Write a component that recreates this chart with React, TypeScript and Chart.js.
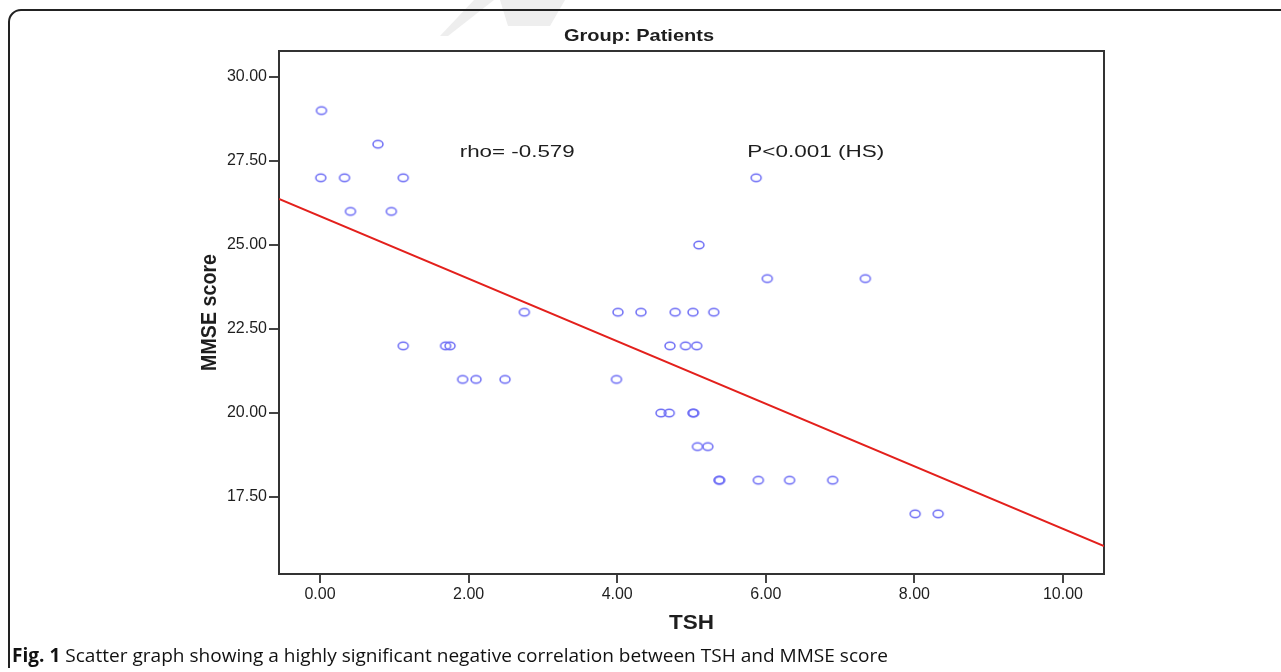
import React, { useEffect, useRef } from "react";
import { Chart, registerables } from "chart.js";

Chart.register(...registerables);

// ---- data ----
const tshValues = [
  0.02, 0.78, 0.01, 0.33, 1.12, 5.87, 0.41, 0.96, 5.1, 6.02, 7.34,
  2.75, 4.01, 4.32, 4.78, 5.02, 5.3,
  1.12, 1.69, 1.75, 4.71, 4.92, 5.07,
  1.92, 2.1, 2.49, 3.99,
  4.59, 4.7, 5.02, 5.03,
  5.08, 5.22,
  5.37, 5.38, 5.9, 6.32, 6.9,
  8.01, 8.32,
];
const mmseValues = [
  29, 28, 27, 27, 27, 27, 26, 26, 25, 24, 24,
  23, 23, 23, 23, 23, 23,
  22, 22, 22, 22, 22, 22,
  21, 21, 21, 21,
  20, 20, 20, 20,
  19, 19,
  18, 18, 18, 18, 18,
  17, 17,
];
const xTicks = [0, 2, 4, 6, 8, 10];
const yTicks = [17.5, 20, 22.5, 25, 27.5, 30];
const xRange = [-0.552, 10.552];
const yRange = [15.209, 30.774];
const fitIntercept = 25.856;
const fitSlope = -0.93;
const chartTitle = "Group: Patients";
const xTitle = "TSH";
const yTitle = "MMSE score";
const rhoText = "rho= -0.579";
const pText = "P<0.001 (HS)";
const captionBold = "Fig. 1";
const captionRest =
  " Scatter graph showing a highly significant negative correlation between TSH and MMSE score";

const SANS = "'Liberation Sans', Arial, sans-serif";
const TEXT = "#1e1e1e";

function stretchText(
  ctx: CanvasRenderingContext2D,
  text: string,
  x: number,
  y: number,
  font: string,
  width: number,
  align: CanvasTextAlign
) {
  ctx.save();
  ctx.font = font;
  const w = ctx.measureText(text).width;
  const sx = width / w;
  ctx.translate(x, y);
  ctx.scale(sx, 1);
  ctx.textAlign = align;
  ctx.textBaseline = "alphabetic";
  ctx.fillStyle = TEXT;
  ctx.fillText(text, 0, 0);
  ctx.restore();
}

const decorPlugin = {
  id: "decor",
  beforeDraw(chart: any) {
    const ctx: CanvasRenderingContext2D = chart.ctx;
    ctx.save();
    ctx.fillStyle = "#ffffff";
    ctx.fillRect(0, 0, chart.width, chart.height);
    // faint watermark fragments
    ctx.fillStyle = "#eeeeee";
    ctx.beginPath();
    ctx.moveTo(474, 0);
    ctx.lineTo(494, 0);
    ctx.lineTo(448, 36);
    ctx.lineTo(440, 36);
    ctx.closePath();
    ctx.fill();
    ctx.beginPath();
    ctx.moveTo(500, 0);
    ctx.lineTo(565, 0);
    ctx.lineTo(550, 26);
    ctx.lineTo(508, 26);
    ctx.closePath();
    ctx.fill();
    // figure frame
    ctx.strokeStyle = "#222";
    ctx.lineWidth = 2;
    ctx.beginPath();
    ctx.moveTo(9, 668);
    ctx.lineTo(9, 22);
    ctx.arcTo(9, 10, 21, 10, 12);
    ctx.lineTo(1281, 10);
    ctx.stroke();
    ctx.restore();
  },
  beforeDatasetsDraw(chart: any) {
    const ctx: CanvasRenderingContext2D = chart.ctx;
    const a = chart.chartArea;
    ctx.save();
    ctx.strokeStyle = "#333";
    ctx.lineWidth = 2;
    ctx.strokeRect(a.left, a.top, a.right - a.left, a.bottom - a.top);
    ctx.restore();
  },
  afterDraw(chart: any) {
    const ctx: CanvasRenderingContext2D = chart.ctx;
    const a = chart.chartArea;
    const xs = chart.scales.x;
    const ys = chart.scales.y;
    const cx = (a.left + a.right) / 2;
    const cy = (a.top + a.bottom) / 2;
    // title
    stretchText(ctx, chartTitle, 639, 41, `bold 17px ${SANS}`, 150, "center");
    // x axis title
    stretchText(ctx, xTitle, cx, 629, `bold 20px ${SANS}`, 45, "center");
    // y axis title (rotated)
    ctx.save();
    ctx.translate(216, cy);
    ctx.rotate(-Math.PI / 2);
    ctx.font = `bold 20px ${SANS}`;
    const w = ctx.measureText(yTitle).width;
    ctx.scale(117 / w, 1.12);
    ctx.textAlign = "center";
    ctx.fillStyle = TEXT;
    ctx.fillText(yTitle, 0, 0);
    ctx.restore();
    // annotations placed in data space
    stretchText(ctx, rhoText, xs.getPixelForValue(1.88), ys.getPixelForValue(27.62), `16px ${SANS}`, 115, "left");
    stretchText(ctx, pText, xs.getPixelForValue(5.75), ys.getPixelForValue(27.62), `16px ${SANS}`, 137, "left");
    // caption
    ctx.save();
    const fb = `bold 19px 'Open Sans', sans-serif`;
    const fr = `19px 'Open Sans', sans-serif`;
    ctx.font = fb;
    const wb = ctx.measureText(captionBold).width;
    ctx.font = fr;
    const wr = ctx.measureText(captionRest).width;
    const sx = 876 / (wb + wr);
    ctx.translate(12, 662);
    ctx.scale(sx, 1);
    ctx.fillStyle = "#111";
    ctx.textBaseline = "alphabetic";
    ctx.textAlign = "left";
    ctx.font = fb;
    ctx.fillText(captionBold, 0, 0);
    ctx.font = fr;
    ctx.fillText(captionRest, wb, 0);
    ctx.restore();
  },
};

export default function App() {
  const ref = useRef<HTMLCanvasElement | null>(null);

  useEffect(() => {
    if (!ref.current) return;
    const pt = document.createElement("canvas");
    pt.width = 16;
    pt.height = 12;
    const pc = pt.getContext("2d")!;
    pc.strokeStyle = "rgb(110,110,245)";
    pc.lineWidth = 1.5;
    pc.beginPath();
    pc.ellipse(8, 6, 5.0, 3.8, 0, 0, Math.PI * 2);
    pc.stroke();

    const points = tshValues.map((x, i) => ({ x, y: mmseValues[i] }));
    const fitLine = xRange.map((x) => ({ x, y: fitIntercept + fitSlope * x }));

    const chart = new Chart(ref.current, {
      type: "scatter",
      data: {
        datasets: [
          {
            label: "Patients",
            data: points,
            pointStyle: pt as any,
            pointRadius: 6,
            borderColor: "rgb(110,110,245)",
            backgroundColor: "transparent",
            order: 1,
          },
          {
            label: "Fit",
            type: "line",
            data: fitLine,
            borderColor: "#e3201c",
            borderWidth: 2,
            pointRadius: 0,
            fill: false,
            order: 2,
          } as any,
        ],
      },
      options: {
        responsive: false,
        animation: false,
        devicePixelRatio: 1,
        events: [],
        layout: { padding: { left: 0, top: 51, right: 177, bottom: 0 } },
        plugins: {
          legend: { display: false },
          title: { display: false },
          tooltip: { enabled: false },
        },
        scales: {
          x: {
            type: "linear",
            min: xRange[0],
            max: xRange[1],
            afterBuildTicks: (s: any) => {
              s.ticks = xTicks.map((value) => ({ value }));
            },
            afterFit: (s: any) => {
              s.height = 98;
            },
            border: { display: false },
            grid: {
              display: true,
              drawOnChartArea: false,
              drawTicks: true,
              tickLength: 9,
              color: "#444",
              lineWidth: 2,
            },
            ticks: {
              padding: 2,
              color: TEXT,
              font: { family: SANS, size: 16 },
              maxRotation: 0,
              callback: (v: any) => Number(v).toFixed(2),
            },
          },
          y: {
            type: "linear",
            min: yRange[0],
            max: yRange[1],
            afterBuildTicks: (s: any) => {
              s.ticks = yTicks.map((value) => ({ value }));
            },
            afterFit: (s: any) => {
              s.width = 279;
            },
            border: { display: false },
            grid: {
              display: true,
              drawOnChartArea: false,
              drawTicks: true,
              tickLength: 10,
              color: "#444",
              lineWidth: 2,
            },
            ticks: {
              padding: 2,
              color: TEXT,
              font: { family: SANS, size: 16 },
              callback: (v: any) => Number(v).toFixed(2),
            },
          },
        },
      },
      plugins: [decorPlugin],
    });
    return () => chart.destroy();
  }, []);

  return (
    <div style={{ position: "absolute", left: 0, top: 0, width: 1281, height: 672 }}>
      <canvas ref={ref} width={1281} height={672} style={{ display: "block" }} />
    </div>
  );
}
